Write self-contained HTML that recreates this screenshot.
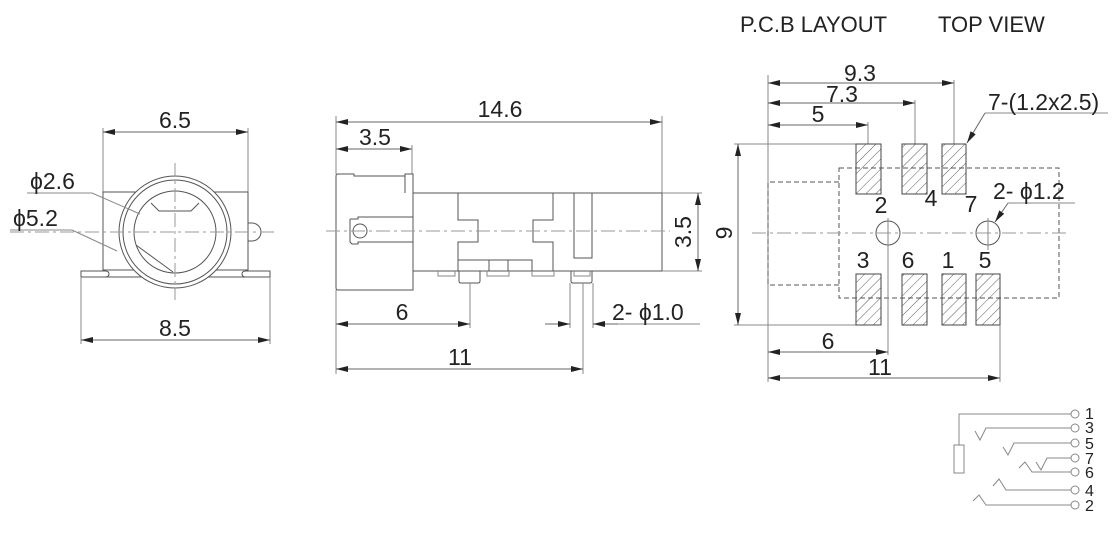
<!DOCTYPE html>
<html><head><meta charset="utf-8"><style>
html,body{margin:0;padding:0;background:#fff;}
svg{display:block;}
text{font-family:"Liberation Sans",Arial,sans-serif;fill:#222;}
</style></head><body>
<svg width="1120" height="546" viewBox="0 0 1120 546" xmlns="http://www.w3.org/2000/svg">
<defs>
<marker id="a" viewBox="0 0 12 6" refX="12" refY="3" markerWidth="12" markerHeight="6" orient="auto-start-reverse" markerUnits="userSpaceOnUse"><path d="M0,0 L12,3 L0,6 z" fill="#222"/></marker>
<pattern id="h" width="7" height="7" patternUnits="userSpaceOnUse" patternTransform="rotate(45)"><line x1="0" y1="0" x2="0" y2="7" stroke="#333" stroke-width="0.8"/></pattern>
</defs>
<g stroke="#555" stroke-width="1" fill="none">
<!-- FRONT VIEW -->
<line x1="103" y1="128" x2="103" y2="192" stroke="#888"/>
<line x1="248" y1="128" x2="248" y2="192" stroke="#888"/>
<line x1="103" y1="132" x2="248" y2="132" stroke="#666" marker-start="url(#a)" marker-end="url(#a)"/>
<rect x="103" y="192" width="145" height="78"/>
<path d="M81,271 h24 q4,0 4,3 q0,3 -4,3 h-24 z M270,271 h-24 q-4,0 -4,3 q0,3 4,3 h24 z"/>
<line x1="81" y1="277" x2="270" y2="277"/>
<path d="M248,223 h4 a9,9 0 0 1 0,18 h-4"/>
<circle cx="175" cy="232" r="56" fill="#fff"/>
<circle cx="175" cy="232" r="52"/>
<circle cx="175" cy="232" r="41"/>
<path d="M151,203 l8,8 h32 l8,-8"/>
<line x1="136" y1="245" x2="173" y2="272"/>
<line x1="10" y1="232" x2="278" y2="232" stroke="#999" stroke-dasharray="14,4,3,4"/>
<line x1="175" y1="163" x2="175" y2="300" stroke="#999" stroke-dasharray="14,4,3,4"/>
<line x1="27" y1="193" x2="92" y2="193" stroke="#888"/>
<line x1="92" y1="193" x2="140" y2="214" stroke="#888"/>
<line x1="10" y1="230" x2="72" y2="230" stroke="#888"/>
<line x1="72" y1="230" x2="117" y2="251" stroke="#888"/>
<line x1="81" y1="277" x2="81" y2="344" stroke="#888"/>
<line x1="270" y1="277" x2="270" y2="344" stroke="#888"/>
<line x1="81" y1="340" x2="270" y2="340" stroke="#666" marker-start="url(#a)" marker-end="url(#a)"/>

<!-- SIDE VIEW -->
<line x1="336" y1="116" x2="336" y2="174" stroke="#888"/>
<line x1="412" y1="145" x2="412" y2="174" stroke="#888"/>
<line x1="662" y1="116" x2="662" y2="193" stroke="#888"/>
<line x1="336" y1="122" x2="662" y2="122" stroke="#666" marker-start="url(#a)" marker-end="url(#a)"/>
<line x1="336" y1="149" x2="412" y2="149" stroke="#666" marker-start="url(#a)" marker-end="url(#a)"/>
<path d="M338,174 h16 v2 h51 v-2 h8 v116 h-75 q-2,0 -2,-2 v-112 q0,-2 2,-2 z"/>
<line x1="405" y1="176" x2="405" y2="193"/>
<path d="M350,219 h8 v-2 h55 M350,219 v23 l2,2 h6 v-2 h55"/>
<circle cx="360" cy="231" r="7"/>
<rect x="413" y="193" width="249" height="78"/>
<path d="M458,193 v27 h20 v22 h-20 v29 M553,193 v27 h-20 v22 h20 v29"/>
<path d="M458,260 h74 v11 M489,260 v11 M508,260 v11"/>
<rect x="574" y="193" width="18" height="65"/>
<path d="M459,271 v10 q0,2 2,2 h17 q2,0 2,-2 v-10 M571,271 v10 q0,2 2,2 h17 q2,0 2,-2 v-10"/>
<path d="M438,271 v5 h17 v-5 M487,271 v5 h22 v-5 M532,271 v5 h22 v-5 M574,271 v5 h16 v-5" stroke="#888"/>
<line x1="326" y1="231" x2="670" y2="231" stroke="#999" stroke-dasharray="14,4,3,4"/>
<line x1="662" y1="193" x2="702" y2="193" stroke="#888"/>
<line x1="662" y1="271" x2="702" y2="271" stroke="#888"/>
<line x1="698" y1="193" x2="698" y2="271" stroke="#666" marker-start="url(#a)" marker-end="url(#a)"/>
<line x1="336" y1="290" x2="336" y2="374" stroke="#888"/>
<line x1="470" y1="283" x2="470" y2="328" stroke="#888"/>
<line x1="570" y1="283" x2="570" y2="328" stroke="#888"/>
<line x1="593" y1="283" x2="593" y2="328" stroke="#888"/>
<line x1="583" y1="283" x2="583" y2="374" stroke="#888"/>
<line x1="336" y1="324" x2="470" y2="324" stroke="#666" marker-start="url(#a)" marker-end="url(#a)"/>
<line x1="545" y1="324" x2="570" y2="324" stroke="#666" marker-end="url(#a)"/>
<line x1="618" y1="324" x2="593" y2="324" stroke="#666" marker-end="url(#a)"/>
<line x1="618" y1="324" x2="700" y2="324" stroke="#888"/>
<line x1="336" y1="369" x2="583" y2="369" stroke="#666" marker-start="url(#a)" marker-end="url(#a)"/>

<!-- PCB -->
<line x1="768" y1="75" x2="768" y2="382" stroke="#888"/>
<line x1="954" y1="80" x2="954" y2="144" stroke="#888"/>
<line x1="915" y1="100" x2="915" y2="144" stroke="#888"/>
<line x1="868" y1="122" x2="868" y2="144" stroke="#888"/>
<line x1="768" y1="83" x2="954" y2="83" stroke="#666" marker-start="url(#a)" marker-end="url(#a)"/>
<line x1="768" y1="103" x2="915" y2="103" stroke="#666" marker-start="url(#a)" marker-end="url(#a)"/>
<line x1="768" y1="125" x2="868" y2="125" stroke="#666" marker-start="url(#a)" marker-end="url(#a)"/>
<line x1="985" y1="113" x2="1108" y2="113" stroke="#888"/>
<line x1="985" y1="113" x2="967" y2="143" stroke="#666" marker-end="url(#a)"/>
<line x1="734" y1="144" x2="856" y2="144" stroke="#888"/>
<line x1="734" y1="325" x2="856" y2="325" stroke="#888"/>
<line x1="738" y1="144" x2="738" y2="325" stroke="#666" marker-start="url(#a)" marker-end="url(#a)"/>
<path d="M839,168 H1059 V298 H839 Z M839,182 H768 V285 H839" stroke-dasharray="5,3"/>
<g fill="url(#h)" stroke="#444">
<rect x="856" y="144" width="25" height="50"/><rect x="902" y="144" width="25" height="50"/><rect x="942" y="144" width="24" height="50"/>
<rect x="856" y="274" width="25" height="51"/><rect x="902" y="274" width="25" height="51"/><rect x="942" y="274" width="24" height="51"/><rect x="976" y="274" width="24" height="51"/>
</g>
<circle cx="888" cy="233" r="12"/>
<circle cx="988" cy="233" r="12"/>
<line x1="752" y1="233" x2="1070" y2="233" stroke="#999" stroke-dasharray="14,4,3,4"/>
<line x1="888" y1="218" x2="888" y2="355" stroke="#888"/>
<line x1="988" y1="218" x2="988" y2="250" stroke="#888"/>
<line x1="1000" y1="325" x2="1000" y2="382" stroke="#888"/>
<line x1="1008" y1="203" x2="1075" y2="203" stroke="#888"/>
<line x1="1008" y1="203" x2="995" y2="222" stroke="#666" marker-end="url(#a)"/>
<line x1="768" y1="352" x2="888" y2="352" stroke="#666" marker-start="url(#a)" marker-end="url(#a)"/>
<line x1="768" y1="378" x2="1000" y2="378" stroke="#666" marker-start="url(#a)" marker-end="url(#a)"/>

<!-- schematic -->
<g stroke="#888">
<path d="M959,445 V414 H1071"/>
<rect x="954" y="445" width="10" height="28"/>
<path d="M975,431 L980,440 L986,428 H1071"/>
<path d="M1003,447 L1008,455 L1014,443 H1071"/>
<path d="M1036,462 L1041,470 L1047,458 H1071"/>
<path d="M1019,468 L1025,462 L1032,472 H1071"/>
<path d="M993,486 L999,479 L1006,490 H1071"/>
<path d="M973,501 L979,495 L986,505 H1071"/>
<circle cx="1075" cy="414" r="4"/><circle cx="1075" cy="428" r="4"/><circle cx="1075" cy="443" r="4"/><circle cx="1075" cy="458" r="4"/><circle cx="1075" cy="472" r="4"/><circle cx="1075" cy="490" r="4"/><circle cx="1075" cy="505" r="4"/>
</g>
</g>
<g font-size="23">
<text x="175" y="128" text-anchor="middle">6.5</text>
<text x="30" y="189">ϕ2.6</text>
<text x="13" y="226">ϕ5.2</text>
<text x="175" y="336" text-anchor="middle">8.5</text>
<text x="500" y="117" text-anchor="middle">14.6</text>
<text x="375" y="145" text-anchor="middle">3.5</text>
<text x="691" y="232" text-anchor="middle" transform="rotate(-90 691 232)">3.5</text>
<text x="402" y="320" text-anchor="middle">6</text>
<text x="612" y="320">2- ϕ1.0</text>
<text x="460" y="365" text-anchor="middle">11</text>
<text x="860" y="81" text-anchor="middle">9.3</text>
<text x="842" y="102" text-anchor="middle">7.3</text>
<text x="818" y="122" text-anchor="middle">5</text>
<text x="988" y="110">7-(1.2x2.5)</text>
<text x="732" y="233" text-anchor="middle" transform="rotate(-90 732 233)">9</text>
<text x="881" y="213" text-anchor="middle">2</text>
<text x="931" y="206" text-anchor="middle">4</text>
<text x="971" y="212" text-anchor="middle">7</text>
<text x="993" y="199">2- ϕ1.2</text>
<text x="863" y="268" text-anchor="middle">3</text>
<text x="908" y="268" text-anchor="middle">6</text>
<text x="948" y="268" text-anchor="middle">1</text>
<text x="985" y="268" text-anchor="middle">5</text>
<text x="828" y="349" text-anchor="middle">6</text>
<text x="880" y="375" text-anchor="middle">11</text>
</g>
<g font-size="22">
<text x="740" y="32">P.C.B LAYOUT</text>
<text x="938" y="32">TOP VIEW</text>
</g>
<g font-size="16">
<text x="1085" y="419">1</text><text x="1085" y="433">3</text><text x="1085" y="449">5</text><text x="1085" y="464">7</text><text x="1085" y="478">6</text><text x="1085" y="496">4</text><text x="1085" y="511">2</text>
</g>
</svg>
</body></html>
